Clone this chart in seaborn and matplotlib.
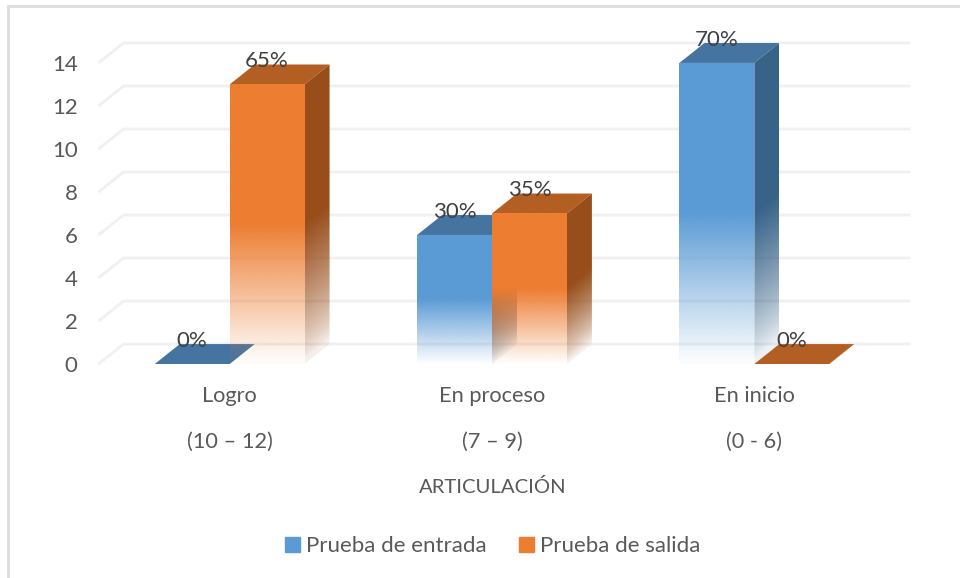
import numpy as np
import pandas as pd
import matplotlib
matplotlib.use("Agg")
import matplotlib.pyplot as plt
from matplotlib.colors import to_rgb
from matplotlib.patches import Patch, Polygon, Rectangle
import seaborn as sns

categorias = ["Logro\n(10 – 12)", "En proceso\n(7 – 9)", "En inicio\n(0 - 6)"]
entrada = [0, 6, 14]
salida = [13, 7, 0]
etiquetas_entrada = ["0%", "30%", "70%"]
etiquetas_salida = ["65%", "35%", "0%"]
series = ["Prueba de entrada", "Prueba de salida"]

azul = "#5B9BD5"
naranja = "#ED7D31"
lados = {azul: "#376387", naranja: "#984E1B"}
tapas = {azul: "#4674A0", naranja: "#B35F24"}
gris = "#595959"

df = pd.DataFrame({
    "categoria": categorias * 2,
    "valor": entrada + salida,
    "serie": [series[0]] * 3 + [series[1]] * 3,
})

sns.set_style("white")
plt.rcParams["font.family"] = ["Lato", "DejaVu Sans"]

fig = plt.figure(figsize=(9.6, 5.78), dpi=100)
# eje en pixeles: izquierda 99, derecha 911, base 364, arriba 43
ax = fig.add_axes([98.5 / 960, 1 - 364 / 578, 812 / 960, 321 / 578])

sns.barplot(data=df, x="categoria", y="valor", hue="serie", palette=[azul, naranja],
            width=0.571, gap=0, legend=False, ax=ax)

# profundidad del efecto 3D en unidades de datos (25 px, 20 px)
dx = 25 / (787 / 3)
dy = 20 / 21.57
xmin, xmax = -0.5, 2.5 + dx
ymax = 14 + dy


def degradado(x0, x1, h, color, clip, fondo=0.0, curva=1.0):
    # transparente abajo, solido desde la mitad de la barra
    r, g, b = to_rgb(color)
    yy, xx = np.mgrid[1:0:300j, 0:1:40j]
    u = (yy * (h + fondo) - fondo * xx) / h
    alfa = np.clip(u / 0.5, 0.03, 1) ** curva
    img = np.dstack([np.full(yy.shape, r), np.full(yy.shape, g), np.full(yy.shape, b), alfa])
    im = ax.imshow(img, extent=(x0, x1, 0, h + fondo), aspect="auto", zorder=z, interpolation="bilinear")
    im.set_clip_path(clip)


# rejilla en la pared del fondo
for t in range(0, 15, 2):
    ax.plot([xmin, xmin + dx, xmax], [t, t + dy, t + dy], color="#F0F0F0", lw=2, zorder=1,
            solid_capstyle="butt", clip_on=False)

z = 2
for cont, col in zip(ax.containers, [azul, naranja]):
    for barra in cont:
        x0, w, h = barra.get_x(), barra.get_width(), barra.get_height()
        x1 = x0 + w
        barra.set_facecolor("none")
        barra.set_edgecolor("none")
        barra.set_zorder(z + 1)
        tapa = Polygon([(x0, h), (x0 + dx, h + dy), (x1 + dx, h + dy), (x1, h)],
                       closed=True, fc=tapas[col], ec="none", zorder=z)
        ax.add_patch(tapa)
        if h > 0:
            lado = Polygon([(x1, 0), (x1 + dx, dy), (x1 + dx, h + dy), (x1, h)],
                           closed=True, fc="none", ec="none", zorder=z)
            ax.add_patch(lado)
            degradado(x1, x1 + dx, h, lados[col], lado, fondo=dy, curva=0.7)
            z += 1
            frente = Rectangle((x0, 0), w, h, fc="none", ec="none", zorder=z)
            ax.add_patch(frente)
            degradado(x0, x1, h, col, frente)
        z += 1

for cont, etiquetas in zip(ax.containers, [etiquetas_entrada, etiquetas_salida]):
    ax.bar_label(cont, labels=etiquetas, padding=9.5, fontsize=16, color="#404040", zorder=50)

ax.set_xlim(xmin, xmax)
ax.set_ylim(0, ymax)
ax.set_yticks(range(0, 15, 2))
ax.tick_params(axis="both", length=0, labelsize=16, labelcolor=gris)
ax.tick_params(axis="y", pad=15)
ax.tick_params(axis="x", pad=16)
plt.setp(ax.get_xticklabels(), linespacing=2.62, fontsize=15.7)
ax.set_xlabel("")
ax.set_ylabel("")
sns.despine(ax=ax, left=True, bottom=True)

fig.text(493 / 960, 1 - 487 / 578, "ARTICULACIÓN", ha="center", va="center", fontsize=14.6, color=gris)

manejadores = [Patch(color=azul, label=series[0]), Patch(color=naranja, label=series[1])]
fig.legend(handles=manejadores, loc="center", bbox_to_anchor=(493 / 960, 1 - 546 / 578), ncol=2,
           frameon=False, fontsize=16, labelcolor=gris, handlelength=0.65, handleheight=0.65,
           handletextpad=0.3, columnspacing=1.45)

# marco exterior del grafico
fig.add_artist(Rectangle((8 / 960, -0.01), 1, 1 + 0.01 - 6 / 578, transform=fig.transFigure, fc="none",
                         ec="#DDDDDD", lw=2))

fig.savefig("out.png", dpi=100)
